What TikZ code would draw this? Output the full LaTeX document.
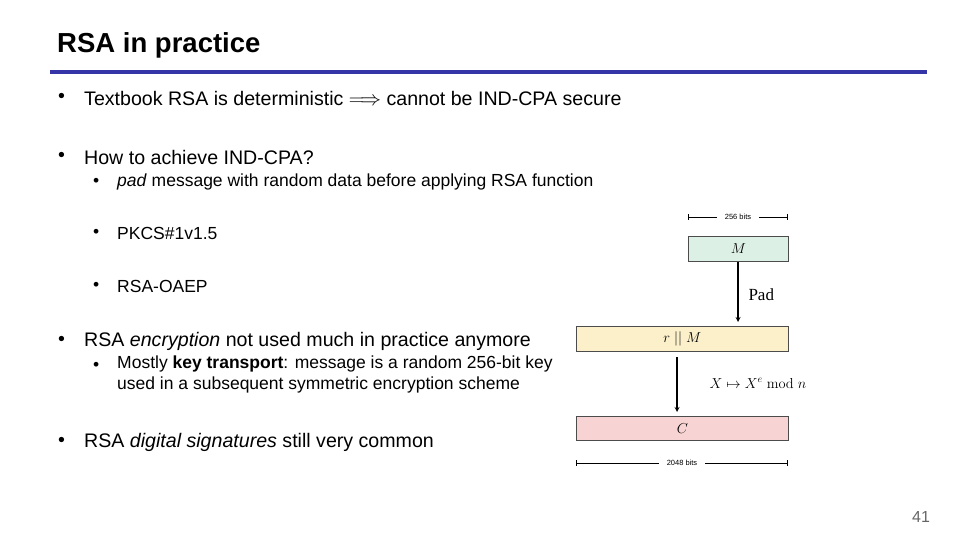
\documentclass[tikz,border=0pt]{standalone}
\usepackage{amsmath,amssymb}
\usepackage[no-math]{fontspec}
\setmainfont{Liberation Sans}
\newfontfamily\serifx{Liberation Serif}
\usetikzlibrary{positioning}
\definecolor{titlebar}{HTML}{3535A8}
\definecolor{msgfill}{HTML}{DDF0E6}
\definecolor{padfill}{HTML}{FCF0CB}
\definecolor{ctfill}{HTML}{F8D3D3}
\tikzset{
  bul/.style={anchor=west,inner sep=0pt,font=\fontsize{19.6}{22}\selectfont},
  subbul/.style={anchor=west,inner sep=0pt,font=\fontsize{17.5}{21}\selectfont,align=left},
  blk/.style={draw=black!70,line width=0.8pt,anchor=north west,inner sep=0pt},
  bits/.style={inner xsep=8pt,inner ysep=1pt,fill=white,font=\fontsize{7.5}{8}\selectfont}
}
\begin{document}
\begin{tikzpicture}[x=1pt,y=-1pt]
    \useasboundingbox (0,0) rectangle (960,540);

    \node[anchor=west,inner sep=0pt,font=\fontsize{27.5}{30}\selectfont\bfseries] (title) at (57,45) {RSA in practice};
    \draw[titlebar,line width=4pt] (50,72) -- (927,72);

    \node[bul] (b1d) at (58,98) {•};
    \node[bul] (b1) at (84,98) {Textbook RSA is deterministic $\Longrightarrow$ cannot be IND-CPA secure};
    \node[bul] (b2d) at (58,157) {•};
    \node[bul] (b2) at (84,157) {How to achieve IND-CPA?};
    \node[subbul] (s1d) at (93,182) {•};
    \node[subbul] (s1) at (117,182) {\textit{pad} message with random data before applying RSA function};
    \node[subbul] (s2d) at (93,233) {•};
    \node[subbul] (s2) at (117,233) {PKCS\#1v1.5};
    \node[subbul] (s3d) at (93,286) {•};
    \node[subbul] (s3) at (117,286) {RSA-OAEP};
    \node[bul] (b3d) at (58,341) {•};
    \node[bul] (b3) at (84,341) {RSA \textit{encryption} not used much in practice anymore};
    \node[subbul] (s4d) at (93,366) {•};
    \node[subbul,anchor=north west] (s4) at (117,356) {Mostly \textbf{key transport}: message is a random 256-bit key\\used in a subsequent symmetric encryption scheme};
    \node[bul] (b4d) at (58,442) {•};
    \node[bul] (b4) at (84,442) {RSA \textit{digital signatures} still very common};

    % blocks
    \node[blk,fill=msgfill,minimum width=100pt,minimum height=25pt] (msg) at (688,236) {};
    \node[font=\Large] at (msg.center) {$M$};
    \node[blk,fill=padfill,minimum width=212pt,minimum height=25pt] (pad) at (576,326) {};
    \node[font=\Large] at (pad.center) {$r\;||\;M$};
    \node[blk,fill=ctfill,minimum width=212pt,minimum height=24pt] (ct) at (576,416) {};
    \node[font=\Large] at (ct.center) {$C$};

    \coordinate (p1) at (738,262);
    \coordinate (p2) at (738,322);
    \coordinate (q1) at (677,357);
    \coordinate (q2) at (677,412);
    \draw[-stealth,line width=1.2pt] (p1) -- (p2);
    \draw[-stealth,line width=1.2pt] (q1) -- (q2);
    \node[anchor=west,font=\serifx\fontsize{17}{19}\selectfont] (padlbl) at (745,295) {Pad};
    \node[anchor=west,font=\Large] (enclbl) at (706,383) {$X \mapsto X^e \bmod n$};

    % widths
    \coordinate (w1) at (688,217);
    \coordinate (w2) at (788,217);
    \coordinate (v1) at (576,463);
    \coordinate (v2) at (788,463);
    \draw[|-|,line width=0.6pt] (w1) -- node[bits] {256 bits} (w2);
    \draw[|-|,line width=0.6pt] (v1) -- node[bits] {2048 bits} (v2);

    \node[font=\fontsize{16}{18}\selectfont,text=black!60] (pgnum) at (921,517) {41};
\end{tikzpicture}
\end{document}
